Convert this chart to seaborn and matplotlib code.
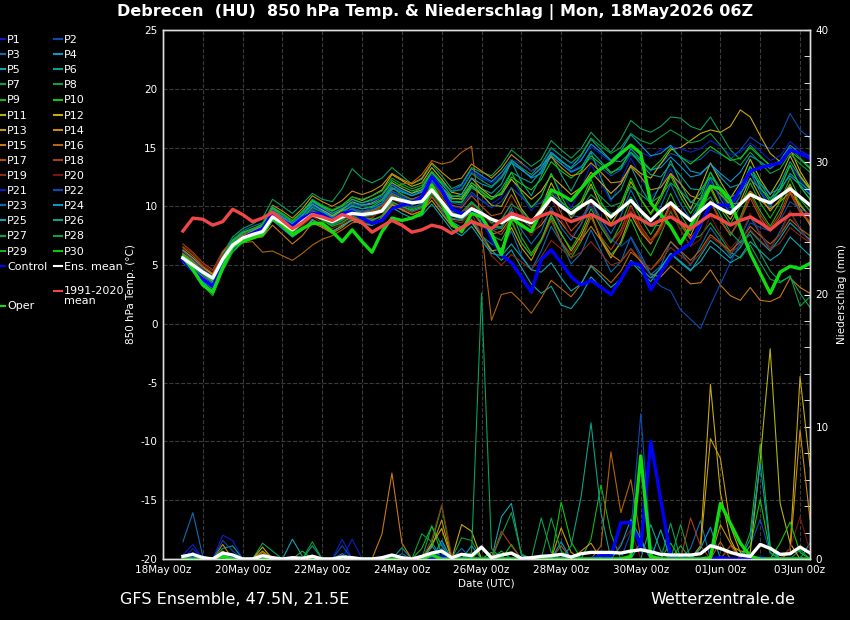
import numpy as np
import pandas as pd
import matplotlib
matplotlib.use("Agg")
import matplotlib.pyplot as plt
import matplotlib.dates as mdates
from matplotlib.lines import Line2D
from matplotlib.ticker import MultipleLocator
import seaborn as sns

# 6-hourly steps, 18May 12z .. 03Jun 06z
times = pd.date_range("2026-05-18 12:00", periods=64, freq="6h")

# --- 850 hPa temperature, ensemble members (deg C) ---
P1 = [5.8, 5.2, 4.6, 4.1, 5.9, 7.0, 7.6, 7.9, 8.2, 9.4, 8.9, 8.2, 8.9, 9.8, 9.3, 8.8,
      9.2, 9.9, 9.5, 9.6, 10.0, 11.2, 10.8, 10.6, 10.8, 12.1, 11.2, 10.0, 9.8, 11.0, 10.5, 10.2,
      10.8, 12.4, 11.0, 9.6, 10.9, 12.8, 11.2, 9.9, 11.5, 13.6, 12.0, 10.4, 12.2, 14.1, 12.5, 10.8,
      11.6, 13.2, 11.3, 9.7, 10.4, 12.1, 11.0, 9.6, 10.9, 12.9, 11.4, 10.1, 11.6, 13.5, 12.3, 11.0]
P2 = [5.5, 4.8, 4.0, 3.4, 5.2, 6.9, 7.8, 8.0, 8.1, 9.6, 9.0, 8.5, 9.2, 10.1, 9.7, 9.3,
      9.6, 10.2, 10.0, 10.2, 10.5, 11.6, 11.3, 11.0, 11.4, 12.8, 11.9, 11.2, 11.5, 12.9, 12.4, 12.0,
      12.6, 13.8, 13.1, 12.5, 13.2, 14.6, 13.9, 13.0, 13.4, 14.1, 13.3, 12.6, 13.1, 14.4, 13.8, 13.0,
      13.6, 14.5, 14.2, 13.8, 14.0, 14.8, 14.4, 14.0, 14.8, 15.9, 15.3, 14.9, 16.0, 17.9, 16.5, 15.8]
P3 = [6.0, 5.3, 4.5, 3.8, 5.4, 6.5, 7.1, 7.5, 7.6, 8.9, 8.4, 7.8, 8.5, 9.2, 8.9, 8.4,
      8.8, 9.0, 8.6, 8.8, 9.2, 10.2, 9.8, 9.5, 9.9, 10.9, 9.6, 8.4, 8.0, 8.6, 7.5, 6.8,
      6.4, 7.9, 5.8, 4.6, 6.2, 8.3, 6.9, 5.1, 6.0, 8.0, 6.2, 4.4, 5.3, 7.4, 5.9, 4.2,
      4.9, 7.0, 6.1, 5.0, 6.6, 8.2, 7.0, 5.8, 7.4, 9.1, 7.6, 6.3, 7.9, 9.6, 8.1, 7.0]
P4 = [5.3, 4.6, 3.6, 3.0, 4.9, 6.6, 7.4, 7.8, 8.0, 9.9, 9.3, 8.6, 9.4, 10.4, 9.9, 9.4,
      9.8, 10.6, 10.3, 10.5, 10.9, 12.0, 11.5, 11.1, 11.6, 12.9, 12.0, 11.3, 11.8, 13.2, 12.6, 12.1,
      12.9, 14.0, 13.2, 12.4, 12.8, 14.3, 13.6, 12.9, 13.3, 14.7, 13.8, 12.9, 13.2, 14.9, 14.0, 13.1,
      13.3, 14.2, 13.4, 12.5, 12.7, 13.6, 12.8, 12.1, 12.9, 14.3, 13.8, 13.2, 13.9, 15.2, 14.5, 14.3]
P5 = [5.7, 5.1, 4.2, 3.5, 5.3, 6.4, 7.2, 7.5, 7.7, 9.0, 8.5, 7.9, 8.6, 9.4, 9.1, 8.6,
      9.0, 9.3, 9.0, 8.9, 9.1, 10.3, 10.0, 9.6, 9.9, 10.9, 9.8, 8.7, 8.2, 8.9, 7.6, 6.3,
      5.4, 6.3, 4.8, 3.4, 2.6, 3.2, 1.6, 1.3, 2.4, 4.0, 3.1, 2.5, 3.6, 5.3, 4.4, 3.6,
      4.8, 6.0, 5.2, 4.5, 5.8, 7.1, 6.4, 5.6, 6.5, 7.9, 7.0, 6.2, 7.3, 8.6, 7.8, 7.2]
P6 = [5.6, 4.9, 4.1, 3.6, 5.6, 6.9, 7.4, 7.7, 8.0, 9.3, 8.7, 8.1, 8.9, 9.7, 9.2, 8.8,
      9.3, 9.8, 9.6, 9.7, 10.1, 11.1, 10.7, 10.4, 10.9, 12.2, 11.4, 10.6, 10.7, 12.0, 11.5, 11.1,
      11.9, 13.8, 12.1, 10.9, 12.6, 14.4, 12.7, 11.3, 12.9, 14.6, 12.4, 10.6, 11.4, 13.4, 11.6, 10.2,
      11.9, 13.9, 12.0, 10.3, 11.1, 12.9, 11.5, 10.0, 11.3, 13.4, 12.0, 10.6, 11.9, 13.8, 12.5, 11.4]
P7 = [6.2, 5.6, 4.8, 4.2, 6.0, 7.4, 8.1, 8.5, 9.0, 10.6, 10.0, 9.4, 10.2, 11.1, 10.6, 10.4,
      11.5, 13.2, 12.4, 12.0, 12.4, 13.3, 12.6, 11.9, 12.3, 13.6, 12.6, 11.5, 11.9, 13.3, 12.9, 12.6,
      13.5, 14.8, 14.1, 13.4, 14.0, 15.6, 14.8, 14.1, 14.9, 16.3, 15.4, 14.6, 15.7, 17.3, 16.6, 16.3,
      16.8, 17.6, 17.5, 16.8, 16.5, 17.6, 16.2, 14.8, 14.0, 15.2, 14.3, 13.4, 13.9, 15.0, 14.1, 13.3]
P8 = [5.4, 4.7, 3.7, 3.0, 5.0, 6.7, 7.4, 7.7, 7.9, 9.2, 8.6, 7.9, 8.6, 9.5, 9.0, 8.5,
      8.9, 9.4, 9.1, 9.2, 9.6, 10.7, 10.2, 9.8, 10.1, 11.2, 10.1, 9.0, 8.8, 9.7, 8.9, 8.1,
      8.3, 9.5, 8.9, 8.2, 9.3, 10.8, 10.1, 9.3, 9.8, 11.0, 10.2, 9.4, 9.6, 10.8, 9.5, 8.3,
      8.4, 9.5, 8.4, 7.2, 7.5, 8.6, 7.4, 6.1, 5.6, 6.7, 5.2, 3.8, 3.5, 4.1, 1.5, 2.3]
P9 = [5.9, 5.3, 4.4, 3.7, 5.5, 6.8, 7.5, 7.8, 8.1, 9.5, 8.9, 8.3, 9.1, 9.6, 9.2, 8.9,
      9.4, 9.7, 9.4, 9.6, 9.8, 10.9, 10.5, 10.2, 10.5, 11.6, 10.5, 9.6, 9.5, 10.4, 9.6, 8.6,
      8.1, 9.6, 7.4, 6.0, 7.2, 9.0, 7.0, 5.6, 7.0, 9.1, 7.3, 5.9, 6.8, 8.9, 7.0, 5.8,
      7.6, 9.6, 8.0, 6.6, 8.2, 10.4, 8.9, 7.5, 9.1, 11.2, 9.6, 8.3, 9.8, 11.8, 10.2, 9.1]
P10 = [5.5, 4.9, 3.9, 3.2, 5.3, 6.9, 7.6, 7.8, 8.0, 9.4, 8.8, 8.2, 9.0, 9.9, 9.5, 9.1,
       9.6, 10.0, 9.8, 10.0, 10.5, 11.6, 11.0, 10.6, 10.9, 12.3, 11.2, 10.4, 10.3, 11.6, 11.0, 10.6,
       11.2, 12.5, 11.9, 11.4, 12.3, 13.8, 13.0, 12.4, 13.1, 14.3, 13.6, 12.8, 13.4, 14.6, 13.9, 13.1,
       13.9, 15.0, 14.2, 13.6, 14.3, 15.1, 14.5, 13.9, 14.1, 15.0, 14.2, 13.5, 13.6, 14.7, 14.0, 13.2]
P11 = [5.8, 5.1, 4.3, 3.8, 5.6, 6.9, 7.5, 7.9, 8.3, 9.8, 9.2, 8.5, 9.3, 10.2, 9.7, 9.2,
       9.7, 10.4, 10.1, 10.3, 10.8, 12.0, 11.5, 11.1, 11.4, 12.6, 11.6, 10.7, 10.6, 11.8, 11.0, 10.1,
       10.0, 11.6, 9.8, 8.7, 9.9, 12.0, 10.4, 9.0, 10.1, 11.9, 9.9, 8.5, 9.8, 12.1, 10.6, 9.4,
       10.9, 12.8, 11.2, 9.8, 11.6, 13.7, 12.1, 10.7, 12.0, 14.0, 12.3, 11.0, 12.4, 14.3, 12.6, 11.5]
P12 = [5.6, 5.0, 4.2, 3.6, 5.4, 6.6, 7.3, 7.7, 8.0, 9.7, 9.1, 8.6, 9.4, 10.5, 10.0, 9.6,
       10.1, 10.8, 10.5, 10.9, 11.4, 12.7, 12.2, 11.7, 12.0, 13.3, 12.3, 11.2, 11.0, 12.4, 11.5, 10.8,
       11.0, 12.3, 11.4, 10.6, 11.3, 12.6, 11.8, 11.0, 11.6, 12.9, 12.0, 11.1, 11.9, 13.5, 12.8, 12.4,
       13.6, 14.8, 15.0, 15.6, 16.2, 16.5, 16.3, 16.8, 18.2, 17.6, 16.0, 14.5, 13.8, 14.9, 13.0, 11.6]
P13 = [6.3, 5.6, 4.8, 4.2, 6.1, 7.1, 7.6, 7.7, 7.8, 9.0, 8.2, 7.4, 8.0, 8.8, 8.3, 7.8,
       8.4, 8.8, 8.5, 8.4, 8.9, 10.1, 9.7, 9.3, 9.6, 10.5, 9.4, 8.3, 7.9, 8.7, 7.4, 6.2,
       6.4, 8.2, 6.5, 5.4, 7.1, 9.3, 7.7, 6.2, 7.5, 9.4, 7.1, 5.6, 7.0, 9.3, 7.8, 6.8,
       8.4, 10.3, 8.6, 7.5, 9.4, 11.7, 10.0, 8.9, 10.4, 12.4, 10.8, 9.6, 10.6, 11.9, 9.8, 8.4]
P14 = [5.7, 5.0, 4.0, 3.4, 5.4, 6.6, 7.5, 7.9, 8.4, 10.1, 9.6, 9.0, 9.8, 10.9, 10.4, 10.0,
       10.5, 11.3, 11.0, 11.3, 11.8, 12.8, 12.3, 11.9, 12.4, 13.7, 12.9, 12.2, 12.4, 13.6, 13.0, 12.4,
       13.2, 14.4, 13.7, 13.0, 13.5, 14.2, 13.3, 12.6, 12.8, 13.7, 12.9, 12.0, 12.1, 13.4, 12.5, 11.4,
       11.6, 12.8, 11.9, 10.9, 10.6, 11.8, 11.0, 10.2, 10.3, 11.3, 10.5, 9.8, 10.4, 11.2, 10.1, 9.1]
P15 = [6.0, 5.4, 4.6, 4.0, 5.8, 6.8, 7.2, 7.3, 7.4, 8.4, 7.6, 6.8, 7.5, 8.6, 8.2, 7.7,
       8.2, 8.9, 8.5, 8.5, 9.0, 10.2, 9.7, 9.3, 9.6, 10.8, 9.8, 8.9, 8.8, 9.6, 8.5, 7.6,
       7.9, 9.1, 8.4, 7.8, 8.4, 9.6, 8.6, 7.5, 7.1, 8.3, 7.1, 5.9, 5.3, 6.4, 5.3, 4.2,
       4.0, 4.9, 4.2, 3.4, 3.5, 4.6, 3.3, 2.4, 2.0, 3.1, 2.0, 1.9, 2.3, 3.9, 3.1, 2.6]
P16 = [6.5, 5.8, 4.9, 4.3, 5.9, 6.6, 6.9, 7.0, 6.1, 6.2, 5.8, 5.4, 6.0, 6.7, 7.2, 7.5,
       8.0, 8.6, 8.7, 9.0, 9.8, 11.4, 11.9, 12.0, 12.7, 13.9, 13.6, 13.8, 14.6, 15.1, 8.0, 0.3,
       2.5, 2.7, 1.9, 0.9, 2.2, 3.7, 3.0, 2.3, 3.4, 5.0, 4.3, 3.5, 4.5, 6.1, 5.4, 4.6,
       5.6, 7.0, 6.2, 5.4, 6.3, 7.6, 6.9, 6.2, 7.0, 8.3, 7.5, 6.8, 7.6, 8.9, 8.1, 7.5]
P17 = [5.9, 5.3, 4.5, 3.9, 5.6, 6.7, 7.2, 7.5, 7.8, 9.2, 8.6, 8.0, 8.7, 9.6, 9.2, 8.8,
       9.2, 9.8, 9.5, 9.6, 10.0, 11.3, 10.9, 10.6, 10.9, 12.0, 11.0, 10.1, 9.9, 10.9, 10.0, 9.2,
       9.4, 11.0, 9.5, 8.2, 9.3, 11.3, 9.4, 7.9, 8.8, 10.6, 8.5, 7.0, 8.0, 10.1, 8.3, 7.1,
       8.3, 10.2, 8.5, 7.2, 8.4, 10.4, 8.7, 7.6, 8.8, 10.7, 9.0, 7.9, 9.1, 11.1, 9.5, 8.6]
P18 = [6.8, 6.1, 5.2, 4.6, 6.2, 7.1, 7.6, 7.8, 8.0, 9.1, 8.5, 7.9, 8.6, 9.5, 9.0, 8.6,
       9.0, 9.6, 9.3, 9.5, 10.0, 11.0, 10.6, 10.3, 10.6, 11.8, 10.8, 9.7, 9.5, 10.2, 9.1, 8.0,
       7.6, 8.9, 6.9, 5.8, 7.0, 8.8, 7.0, 5.9, 7.2, 9.1, 7.4, 6.3, 7.6, 9.6, 8.0, 6.9,
       8.1, 10.1, 8.5, 7.3, 8.4, 10.5, 8.8, 7.6, 8.9, 11.0, 9.3, 8.1, 9.4, 11.4, 9.6, 8.7]
P19 = [6.6, 6.0, 5.0, 4.5, 5.9, 6.9, 7.4, 7.6, 7.8, 9.0, 8.3, 7.6, 8.3, 9.1, 8.6, 8.1,
       8.5, 9.0, 8.7, 8.7, 9.2, 10.4, 9.9, 9.5, 9.8, 10.9, 9.9, 8.8, 8.6, 9.4, 7.6, 5.8,
       5.0, 5.9, 5.3, 4.6, 5.7, 7.1, 6.4, 5.6, 6.1, 7.0, 6.0, 5.0, 5.3, 6.4, 5.5, 4.6,
       5.4, 6.5, 5.8, 5.1, 6.0, 7.4, 6.8, 6.0, 6.7, 8.0, 7.1, 6.3, 6.9, 8.2, 7.5, 6.9]
P20 = [6.1, 5.5, 4.7, 4.0, 5.6, 6.6, 7.1, 7.4, 7.6, 8.8, 8.2, 7.6, 8.3, 9.2, 8.8, 8.3,
       8.7, 9.3, 9.0, 9.1, 9.5, 10.6, 10.2, 9.9, 10.1, 11.2, 10.3, 9.4, 9.2, 10.1, 9.3, 8.5,
       8.8, 10.4, 8.7, 7.5, 8.7, 10.7, 8.9, 7.4, 8.4, 10.3, 8.4, 6.9, 7.8, 9.9, 8.2, 7.0,
       7.8, 9.7, 8.0, 6.6, 7.2, 9.2, 7.6, 6.4, 7.4, 9.4, 7.7, 6.5, 7.6, 9.6, 7.9, 7.0]
P21 = [5.4, 4.7, 3.8, 3.2, 5.1, 6.6, 7.4, 7.8, 8.2, 9.7, 9.2, 8.6, 9.4, 10.3, 9.8, 9.4,
       9.9, 10.5, 10.2, 10.4, 10.8, 11.9, 11.4, 11.0, 11.3, 12.7, 11.9, 11.3, 11.7, 13.0, 12.5, 12.0,
       12.6, 14.0, 13.6, 13.0, 13.4, 14.9, 14.3, 13.6, 14.0, 15.1, 14.4, 13.8, 14.3, 15.3, 14.6, 14.2,
       14.8, 15.1, 14.9, 14.6, 14.9, 15.6, 15.1, 14.4, 14.6, 15.4, 14.7, 13.9, 14.3, 15.5, 14.8, 14.2]
P22 = [5.6, 5.0, 4.1, 3.4, 5.2, 6.5, 7.2, 7.6, 7.9, 9.3, 8.7, 8.1, 8.8, 9.7, 9.3, 8.9,
       9.3, 9.8, 9.6, 9.8, 10.2, 11.3, 10.9, 10.5, 10.8, 12.1, 11.2, 10.3, 10.1, 11.2, 10.5, 9.9,
       10.4, 11.6, 10.8, 10.0, 10.3, 11.4, 10.3, 9.2, 9.1, 10.0, 8.6, 7.2, 6.6, 7.3, 5.6, 4.1,
       3.2, 2.8, 1.2, 0.4, -0.4, 1.6, 3.4, 5.2, 6.9, 8.6, 8.2, 7.9, 8.8, 10.4, 9.8, 9.3]
P23 = [6.2, 5.5, 4.6, 4.0, 5.8, 7.2, 7.9, 8.3, 8.6, 10.0, 9.3, 8.6, 9.2, 10.0, 9.5, 9.0,
       9.3, 9.8, 9.4, 9.4, 9.7, 10.8, 10.3, 9.9, 10.2, 11.3, 10.2, 9.0, 8.8, 9.8, 8.9, 7.9,
       8.2, 9.9, 8.0, 6.8, 7.9, 9.9, 8.2, 7.1, 8.5, 10.5, 8.9, 7.7, 9.2, 11.4, 9.7, 8.6,
       10.0, 11.9, 10.2, 8.9, 10.4, 12.4, 10.6, 9.4, 10.9, 12.9, 11.2, 9.9, 11.6, 13.5, 11.7, 10.6]
P24 = [5.3, 4.5, 3.5, 2.8, 4.8, 6.4, 7.2, 7.5, 7.8, 9.5, 9.0, 8.4, 9.3, 10.2, 9.6, 9.1,
       9.4, 10.1, 9.8, 9.9, 10.3, 11.5, 11.2, 10.9, 11.2, 12.6, 11.6, 10.8, 11.0, 12.4, 11.9, 11.6,
       12.4, 13.7, 13.1, 12.5, 13.3, 14.6, 13.9, 13.2, 13.9, 15.3, 14.6, 13.9, 14.7, 16.1, 15.2, 14.3,
       14.5, 15.2, 14.1, 13.0, 12.8, 13.6, 12.5, 11.6, 11.9, 12.9, 11.9, 11.1, 11.5, 12.6, 11.8, 11.0]
P25 = [5.5, 4.8, 3.6, 2.6, 4.6, 6.2, 7.0, 7.3, 7.5, 8.8, 8.1, 7.4, 8.0, 8.9, 8.4, 7.9,
       8.3, 8.9, 8.5, 8.4, 8.8, 9.9, 9.4, 9.0, 9.2, 10.2, 9.1, 8.0, 7.5, 8.3, 7.1, 6.0,
       5.8, 6.8, 5.7, 4.6, 4.4, 5.2, 3.9, 2.8, 3.4, 4.9, 4.0, 3.1, 3.8, 5.4, 4.7, 3.9,
       4.7, 6.0, 5.3, 4.6, 5.3, 6.6, 5.9, 5.2, 5.7, 7.0, 6.2, 5.4, 6.0, 7.4, 6.6, 5.8]
P26 = [5.8, 5.2, 4.3, 3.7, 5.7, 7.0, 7.7, 8.0, 8.4, 9.8, 9.1, 8.5, 9.2, 10.4, 9.9, 9.4,
       9.8, 10.3, 10.1, 10.2, 10.6, 11.8, 11.3, 10.9, 11.3, 12.5, 11.5, 10.4, 10.4, 11.7, 11.2, 10.6,
       11.5, 12.9, 12.4, 12.0, 13.0, 14.5, 13.8, 13.3, 14.3, 15.7, 14.8, 13.9, 13.8, 14.6, 13.6, 12.7,
       12.5, 13.6, 12.6, 11.5, 11.4, 12.5, 11.6, 10.8, 11.1, 12.3, 11.5, 10.7, 11.3, 12.8, 12.0, 11.3]
P27 = [5.6, 4.9, 3.9, 3.1, 5.0, 6.4, 7.1, 7.5, 7.8, 9.1, 8.5, 7.8, 8.5, 9.4, 8.9, 8.4,
       8.8, 9.5, 9.2, 9.3, 9.7, 10.9, 10.5, 10.1, 10.4, 11.5, 10.5, 9.5, 9.2, 10.3, 9.5, 8.6,
       8.9, 10.2, 9.6, 8.8, 9.6, 11.0, 10.4, 9.7, 10.4, 11.6, 10.8, 10.0, 10.3, 11.7, 11.0, 10.3,
       10.9, 12.0, 11.3, 10.4, 10.0, 10.8, 9.3, 7.8, 6.9, 7.6, 6.0, 4.5, 3.6, 4.0, 2.6, 1.4]
P28 = [5.7, 5.1, 4.2, 3.5, 5.4, 6.9, 7.7, 8.1, 8.4, 9.9, 9.3, 8.7, 9.5, 10.6, 10.1, 9.7,
       10.1, 10.8, 10.6, 10.9, 11.3, 12.4, 11.9, 11.5, 11.8, 13.0, 12.1, 11.3, 11.4, 12.8, 12.2, 11.7,
       12.5, 13.9, 13.3, 12.7, 13.6, 15.0, 14.3, 13.7, 14.4, 15.8, 15.1, 14.5, 15.0, 16.2, 15.6, 15.3,
       15.9, 16.5, 16.0, 15.4, 15.6, 16.2, 15.2, 14.1, 13.5, 14.6, 13.7, 12.8, 13.2, 14.5, 13.6, 12.9]
P29 = [5.2, 4.5, 3.3, 2.4, 4.5, 6.1, 6.9, 7.3, 7.6, 9.0, 8.4, 7.8, 8.5, 9.3, 8.8, 8.3,
       8.6, 9.2, 8.8, 8.8, 9.2, 10.4, 10.0, 9.7, 10.0, 11.1, 10.1, 9.2, 8.9, 9.7, 8.6, 7.5,
       7.1, 8.7, 6.9, 5.8, 7.1, 9.2, 7.6, 6.4, 7.8, 9.8, 8.2, 6.9, 8.5, 10.6, 9.0, 7.6,
       9.1, 11.1, 9.3, 7.9, 9.4, 11.5, 9.8, 8.5, 10.0, 12.0, 10.3, 9.0, 10.4, 12.4, 10.6, 9.6]
P30 = [5.9, 5.2, 4.4, 3.8, 5.7, 7.1, 7.8, 8.1, 8.5, 9.9, 9.4, 8.8, 9.6, 10.5, 10.0, 9.6,
       10.0, 10.6, 10.3, 10.6, 11.0, 12.2, 11.7, 11.3, 11.6, 12.9, 11.9, 10.9, 10.8, 12.0, 11.3, 10.6,
       11.1, 12.9, 11.2, 9.9, 10.8, 12.8, 10.9, 9.3, 10.4, 12.3, 10.4, 8.9, 10.2, 12.4, 10.6, 9.3,
       10.6, 12.6, 10.8, 9.4, 10.7, 12.9, 11.2, 9.9, 11.3, 13.4, 11.6, 10.4, 11.5, 13.5, 11.7, 10.6]

control_temp = [5.4, 4.5, 3.8, 3.2, 5.0, 6.6, 7.3, 7.7, 8.1, 9.4, 8.8, 8.3, 9.0, 9.4, 9.3, 8.8,
                9.4, 9.55, 9.0, 8.55, 8.8, 9.8, 10.1, 10.3, 10.8, 12.5, 11.4, 9.8, 9.4, 9.55, 9.0, 7.3,
                5.9, 5.2, 4.0, 2.7, 5.5, 6.3, 5.2, 4.0, 3.3, 3.7, 3.1, 2.5, 3.8, 5.2, 5.0, 2.9,
                4.3, 5.7, 6.3, 6.85, 8.5, 10.1, 10.1, 10.1, 11.5, 13.0, 13.3, 13.5, 13.7, 14.8, 14.5, 14.1]
oper_temp = [5.7, 4.6, 3.3, 2.7, 4.8, 6.6, 7.0, 7.3, 7.6, 9.0, 8.4, 7.6, 8.1, 8.55, 8.55, 7.85,
             7.0, 8.0, 7.0, 6.1, 7.85, 9.0, 8.8, 9.0, 9.4, 11.8, 10.3, 8.55, 7.85, 9.4, 9.1, 7.7,
             5.9, 9.0, 8.4, 7.85, 9.6, 11.4, 11.0, 10.5, 11.5, 12.5, 13.2, 13.7, 14.5, 15.2, 14.5, 10.3,
             9.3, 8.3, 6.85, 8.3, 10.0, 11.7, 11.5, 10.5, 8.2, 6.0, 4.3, 2.6, 4.4, 4.9, 4.7, 5.15]
mean_temp = [5.6, 5.0, 4.4, 3.9, 5.5, 6.7, 7.3, 7.6, 7.85, 9.1, 8.6, 8.0, 8.7, 9.3, 9.0, 8.7,
             9.1, 9.4, 9.3, 9.4, 9.6, 10.7, 10.5, 10.3, 10.4, 11.4, 10.4, 9.3, 9.1, 9.8, 9.4, 8.9,
             8.6, 9.1, 8.9, 8.6, 9.6, 10.7, 10.0, 9.4, 10.0, 10.5, 9.8, 9.1, 9.8, 10.5, 9.6, 8.8,
             9.6, 10.3, 9.5, 8.8, 9.6, 10.3, 9.8, 9.4, 10.2, 11.0, 10.6, 10.3, 10.9, 11.5, 10.8, 10.1]
clim_temp = [7.9, 9.0, 8.9, 8.4, 8.7, 9.75, 9.3, 8.7, 9.0, 9.5, 8.8, 8.1, 8.6, 9.3, 9.1, 8.8,
             9.3, 9.0, 8.6, 7.8, 8.3, 8.8, 8.4, 7.8, 8.0, 8.4, 8.2, 7.7, 8.2, 8.7, 8.4, 8.1,
             8.8, 9.4, 9.1, 8.8, 9.2, 9.5, 9.1, 8.7, 9.0, 9.3, 8.9, 8.4, 8.9, 9.3, 8.9, 8.4,
             8.8, 9.1, 8.6, 8.1, 8.7, 9.3, 8.9, 8.4, 8.8, 9.1, 8.6, 8.0, 8.7, 9.3, 9.3, 9.3]

# --- 6-hourly precipitation (mm): (member, step, amount), other steps dry ---
precip_week1 = [(3, 0, 1.3), (3, 1, 3.5), (3, 2, 0.2), (1, 0, 0.3), (1, 1, 1.1), (21, 1, 0.8),
                (23, 1, 0.5), (4, 1, 0.4), (1, 4, 1.8), (1, 5, 1.4), (22, 4, 1.4), (22, 5, 0.6),
                (6, 4, 0.8), (6, 5, 1.0), (14, 4, 1.1), (13, 4, 0.6), (10, 4, 0.4), (7, 8, 1.2),
                (7, 9, 0.6), (11, 8, 0.9), (13, 8, 0.6), (9, 8, 0.5), (16, 8, 0.5), (5, 11, 1.5),
                (5, 12, 0.2), (8, 13, 1.3), (6, 13, 1.0), (9, 12, 0.6), (24, 13, 0.3), (1, 16, 1.5),
                (21, 17, 1.5), (22, 16, 1.0), (4, 16, 0.4), (15, 20, 1.9), (15, 21, 6.5), (15, 22, 1.2),
                (6, 22, 0.85), (23, 22, 0.4), (7, 21, 0.3)]
precip_week2 = [(9, 24, 0.8), (9, 25, 2.5), (9, 26, 0.4), (19, 25, 1.5), (19, 26, 4.1), (19, 27, 0.3),
                (10, 25, 1.2), (10, 26, 4.0), (14, 25, 0.9), (14, 26, 2.95), (12, 25, 1.1), (12, 26, 2.3),
                (4, 26, 1.4), (24, 25, 1.0), (28, 24, 1.9), (28, 25, 1.3), (7, 25, 2.5), (7, 26, 1.0),
                (2, 26, 1.2), (23, 26, 0.8), (12, 28, 2.6), (12, 29, 2.1), (8, 28, 1.6), (8, 29, 1.4),
                (23, 28, 0.8), (4, 29, 1.0), (27, 29, 0.5), (27, 30, 20.1), (27, 31, 0.8), (9, 30, 0.8),
                (10, 31, 0.5), (5, 32, 3.2), (5, 33, 4.2), (5, 34, 0.3), (8, 32, 1.8), (8, 33, 3.5),
                (8, 34, 0.4), (18, 32, 2.1), (18, 33, 1.0), (10, 33, 1.1), (29, 32, 0.6),
                (7, 36, 3.1), (7, 37, 0.5), (28, 37, 3.1), (28, 38, 0.6), (10, 38, 4.3), (10, 39, 1.3),
                (13, 38, 2.35), (13, 39, 0.5), (24, 38, 1.3), (17, 38, 1.0)]
precip_week3 = [(26, 39, 1.0), (26, 40, 4.7), (26, 41, 10.3), (26, 42, 3.5), (9, 41, 1.5), (9, 42, 5.6),
                (9, 43, 1.9), (14, 40, 0.6), (14, 41, 1.2), (16, 42, 1.0), (16, 43, 8.1), (16, 44, 3.5),
                (16, 45, 6.0), (16, 46, 1.5), (22, 45, 2.0), (22, 46, 11.0), (22, 47, 1.0), (24, 44, 1.0),
                (24, 45, 3.0), (24, 46, 1.5), (20, 44, 1.2), (20, 45, 2.2), (5, 46, 1.3), (6, 47, 2.6),
                (6, 48, 0.6), (25, 48, 2.2), (7, 49, 2.7), (8, 50, 2.6), (18, 51, 3.1), (18, 52, 1.0),
                (3, 51, 0.8), (3, 52, 2.9), (24, 52, 0.8), (24, 53, 2.4), (29, 50, 1.0), (10, 49, 1.2),
                (12, 52, 1.0), (12, 53, 13.2), (12, 54, 5.0), (12, 55, 1.5), (13, 52, 0.8), (13, 53, 9.1),
                (13, 54, 7.6), (13, 55, 2.5), (13, 56, 0.5), (14, 54, 2.6), (14, 55, 1.2), (11, 55, 1.0),
                (11, 56, 0.6), (16, 54, 1.3), (19, 55, 1.0), (11, 57, 0.5), (11, 58, 7.5), (11, 59, 15.9),
                (11, 60, 4.2), (11, 61, 1.2), (9, 57, 2.0), (9, 58, 8.7), (9, 59, 1.0), (24, 57, 1.5),
                (24, 58, 7.2), (24, 59, 0.8), (10, 57, 1.0), (10, 58, 4.5), (10, 59, 0.5), (2, 57, 1.0),
                (2, 58, 3.0), (2, 59, 0.4), (30, 60, 1.2), (30, 61, 2.8), (30, 62, 0.5), (12, 61, 0.8),
                (12, 62, 13.8), (12, 63, 7.0), (14, 61, 0.5), (14, 62, 9.75), (14, 63, 3.0), (20, 61, 0.8),
                (20, 62, 3.2), (20, 63, 0.6), (4, 63, 1.2), (8, 62, 0.7)]

control_precip = [0.0, 0.1, 0.0, 0.0, 0.2, 0.1, 0.0, 0.0, 0.0, 0.0, 0.0, 0.0, 0.0, 0.0, 0.0, 0.0,
                  0.0, 0.0, 0.0, 0.0, 0.0, 0.0, 0.0, 0.0, 0.0, 0.1, 0.2, 0.0, 0.0, 0.0, 0.0, 0.0,
                  0.0, 0.0, 0.0, 0.0, 0.0, 0.0, 0.0, 0.0, 0.0, 0.0, 0.3, 0.2, 2.75, 2.75, 0.9, 8.9,
                  4.5, 0.2, 0.0, 0.0, 0.0, 0.0, 0.1, 0.0, 0.0, 0.0, 0.1, 0.0, 0.0, 0.0, 0.0, 0.0]
oper_precip = [0.0, 0.0, 0.0, 0.0, 0.2, 0.0, 0.0, 0.0, 0.0, 0.0, 0.0, 0.0, 0.0, 0.0, 0.0, 0.0,
               0.0, 0.0, 0.0, 0.0, 0.0, 0.0, 0.0, 0.0, 0.0, 0.3, 0.0, 0.0, 0.0, 0.0, 0.0, 0.0,
               0.0, 0.0, 0.0, 0.0, 0.0, 0.0, 0.0, 0.0, 0.0, 0.0, 0.0, 0.0, 0.0, 0.2, 7.8, 0.2,
               0.0, 0.0, 0.0, 0.0, 0.0, 0.1, 4.2, 2.7, 1.2, 0.2, 0.0, 0.0, 0.0, 0.0, 0.0, 0.0]
mean_precip = [0.2, 0.35, 0.1, 0.0, 0.45, 0.3, 0.0, 0.0, 0.25, 0.1, 0.0, 0.1, 0.05, 0.2, 0.0, 0.0,
               0.15, 0.1, 0.0, 0.0, 0.1, 0.3, 0.1, 0.0, 0.2, 0.45, 0.6, 0.1, 0.35, 0.25, 0.9, 0.1,
               0.3, 0.45, 0.05, 0.1, 0.2, 0.25, 0.35, 0.15, 0.4, 0.5, 0.5, 0.5, 0.45, 0.6, 0.7, 0.55,
               0.35, 0.3, 0.3, 0.3, 0.4, 1.0, 0.8, 0.5, 0.3, 0.2, 1.1, 0.8, 0.35, 0.4, 0.9, 0.45]

member_colors = ["#0a1ec8", "#0a4bb4", "#0a6eb4", "#0a96c8", "#0aa5b4",
                 "#0aa08c", "#0aa05a", "#0aa03c", "#14b41e", "#0ac80a",
                 "#b4b40a", "#c8aa0a", "#c89b0a", "#c88c0a", "#c87814",
                 "#b4640a", "#b45014", "#aa3c14", "#8c2814", "#781414"]

members = [P1, P2, P3, P4, P5, P6, P7, P8, P9, P10, P11, P12, P13, P14, P15,
           P16, P17, P18, P19, P20, P21, P22, P23, P24, P25, P26, P27, P28, P29, P30]
names = [f"P{k + 1}" for k in range(30)]
palette = {n: member_colors[k % 20] for k, n in enumerate(names)}

precip = np.zeros((30, 64))
for m, step, mm in precip_week1 + precip_week2 + precip_week3:
    precip[m - 1, step] = mm

df = pd.DataFrame({
    "time": np.tile(times, 30),
    "member": np.repeat(names, 64),
    "temp": np.concatenate(members),
    "precip": precip.ravel(),
})
single = pd.DataFrame({
    "time": times,
    "control_temp": control_temp, "oper_temp": oper_temp,
    "mean_temp": mean_temp, "clim_temp": clim_temp,
    "control_precip": control_precip, "oper_precip": oper_precip,
    "mean_precip": mean_precip,
})

BLUE, GREEN, WHITE, RED = "#0000ff", "#10dc10", "#ffffff", "#f04646"
plt.rcParams.update({
    "font.family": ["DejaVu Sans"],
    "axes.unicode_minus": False,
    "text.color": "white", "axes.labelcolor": "white",
    "xtick.color": "white", "ytick.color": "white",
})

fig = plt.figure(figsize=(8.5, 6.2), dpi=100, facecolor="black")
ax = fig.add_axes([163 / 850, 61 / 620, 647 / 850, 529 / 620])
ax.set_facecolor("black")
ax2 = ax.twinx()

# temperature
sns.lineplot(data=df, x="time", y="temp", hue="member", palette=palette,
             linewidth=0.8, legend=False, ax=ax, estimator=None, sort=False)
sns.lineplot(data=single, x="time", y="control_temp", color=BLUE, linewidth=2.4, ax=ax)
sns.lineplot(data=single, x="time", y="oper_temp", color=GREEN, linewidth=2.4, ax=ax)
sns.lineplot(data=single, x="time", y="mean_temp", color=WHITE, linewidth=2.4, ax=ax)
sns.lineplot(data=single, x="time", y="clim_temp", color=RED, linewidth=2.4, ax=ax)

# precipitation
sns.lineplot(data=df, x="time", y="precip", hue="member", palette=palette,
             linewidth=0.8, legend=False, ax=ax2, estimator=None, sort=False)
sns.lineplot(data=single, x="time", y="control_precip", color=BLUE, linewidth=2.4, ax=ax2)
sns.lineplot(data=single, x="time", y="oper_precip", color=GREEN, linewidth=2.4, ax=ax2)
sns.lineplot(data=single, x="time", y="mean_precip", color=WHITE, linewidth=2.4, ax=ax2)

ax.set_ylim(-20, 25)
ax2.set_ylim(0, 40)
ax.set_xlim(pd.Timestamp("2026-05-18 00:00"), pd.Timestamp("2026-06-03 06:00"))

ax.xaxis.set_major_locator(mdates.DayLocator(bymonthday=[18, 20, 22, 24, 26, 28, 30, 1, 3]))
ax.xaxis.set_minor_locator(mdates.DayLocator())
ax.xaxis.set_major_formatter(mdates.DateFormatter("%d%b %Hz"))
ax.yaxis.set_major_locator(MultipleLocator(5))
ax2.yaxis.set_major_locator(MultipleLocator(10))
ax2.yaxis.set_minor_locator(MultipleLocator(2))

ax.grid(True, which="both", axis="x", color="#3a3a3a", linestyle="--", linewidth=0.8)
ax.grid(True, which="major", axis="y", color="#3a3a3a", linestyle="--", linewidth=0.8)
ax2.grid(False)

ax.tick_params(axis="both", which="both", direction="in", length=0, labelsize=7.5, pad=4)
ax2.tick_params(axis="y", which="both", direction="in", length=4, labelsize=7.5,
                color="white", pad=4)
for a in (ax, ax2):
    for s in a.spines.values():
        s.set_color("#dddddd")
        s.set_linewidth(1)

ax.set_xlabel("Date (UTC)", fontsize=7.5, labelpad=3)
ax.set_ylabel("850 hPa Temp. (\u00b0C)", fontsize=7.5, labelpad=3)
ax2.set_ylabel("Niederschlag (mm)", fontsize=7.5, labelpad=6)

fig.text(0.512, 0.981, "Debrecen  (HU)  850 hPa Temp. & Niederschlag | Mon, 18May2026 06Z",
         ha="center", va="center", fontsize=11.5, fontweight="bold")
fig.text(120 / 850, 1 - 599 / 620, "GFS Ensemble, 47.5N, 21.5E", ha="left", va="center", fontsize=11.5)
fig.text(650 / 850, 1 - 599 / 620, "Wetterzentrale.de", ha="left", va="center", fontsize=11.5)

# legend: left column odd members, right column even members
def handle(c, lw=1.5):
    return Line2D([], [], color=c, linewidth=lw)

left_h = [handle(palette[n]) for n in names[0::2]] + [handle(BLUE), handle("none"), handle(GREEN)]
left_l = names[0::2] + ["Control", " \n ", "Oper"]
right_h = [handle(palette[n]) for n in names[1::2]] + [handle(WHITE), handle(RED)]
right_l = names[1::2] + ["Ens. mean", " \n1991-2020\nmean"]
leg = fig.legend(left_h + right_h, left_l + right_l, ncol=2, loc="upper left",
                 bbox_to_anchor=(-0.004, 1 - 35 / 620), frameon=False, fontsize=8,
                 handlelength=0.8, handletextpad=0.15, columnspacing=0.55,
                 labelspacing=0.46, borderpad=0, borderaxespad=0)
for t in leg.get_texts():
    t.set_color("white")
    t.set_linespacing(0.95)

fig.savefig("out.png", dpi=100, facecolor="black")
